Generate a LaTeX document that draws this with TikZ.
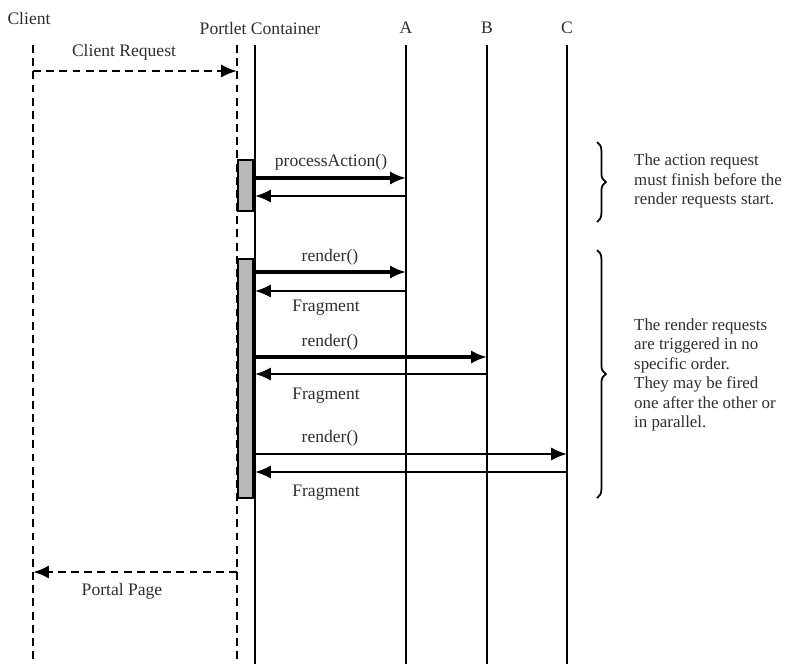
\documentclass[tikz,border=0pt]{standalone}
\usepackage{fontspec}
\setmainfont{Liberation Serif}
\usetikzlibrary{arrows.meta,decorations.pathreplacing}
\definecolor{seqink}{HTML}{2E2E2E}
\definecolor{seqgray}{HTML}{B8B8B8}

\tikzset{
  lifeline/.style={line width=1.1pt},
  dashline/.style={line width=1.5pt,dash pattern=on 4.5pt off 3pt},
  msgtip/.style={-{Latex[length=9pt,width=7.5pt]}},
  callmsg/.style={msgtip,line width=2pt},
  replymsg/.style={msgtip,line width=1.2pt},
  activation/.style={draw,fill=seqgray,line width=.8pt},
  msglabel/.style={text=seqink,font=\fontsize{10}{12}\selectfont},
  notetext/.style={text=seqink,anchor=west,align=left,
    font=\fontsize{9.6}{11.1}\selectfont},
  notebrace/.style={decorate,decoration={brace,amplitude=5pt},line width=1pt}
}

\begin{document}
\begin{tikzpicture}[x=0.02cm,y=-0.02cm,line cap=butt]
  \useasboundingbox (0,0) rectangle (790,664);

  % lifelines
  \coordinate (cl) at (33,0);
  \coordinate (pcd) at (237,0);
  \coordinate (pc) at (255,0);
  \coordinate (la) at (406,0);
  \coordinate (lb) at (487,0);
  \coordinate (lc) at (567,0);
  \coordinate (top) at (0,45);
  \coordinate (bot) at (0,664);

  \node[msglabel] (clientlbl) at (29,18) {Client};
  \node[msglabel] (pclbl) at (260,28) {Portlet Container};
  \node[msglabel] (albl) at (406,28) {A};
  \node[msglabel] (blbl) at (487,28) {B};
  \node[msglabel] (clbl) at (567,28) {C};

  \draw[dashline] (cl |- top) -- (cl |- bot);
  \draw[dashline] (pcd |- top) -- (pcd |- bot);
  \draw[lifeline,line width=1.4pt] (pc |- top) -- (pc |- bot);
  \draw[lifeline] (la |- top) -- (la |- bot);
  \draw[lifeline] (lb |- top) -- (lb |- bot);
  \draw[lifeline] (lc |- top) -- (lc |- bot);

  % activations
  \coordinate (act1t) at (238,160);
  \coordinate (act1b) at (253,211);
  \coordinate (act2t) at (238,259);
  \coordinate (act2b) at (253,498);
  \draw[activation] (act1t) rectangle (act1b);
  \draw[activation] (act2t) rectangle (act2b);

  % message rows
  \coordinate (req) at (0,71);
  \coordinate (pa) at (0,178);
  \coordinate (pr) at (0,196);
  \coordinate (ra) at (0,272);
  \coordinate (fa) at (0,291);
  \coordinate (rb) at (0,357);
  \coordinate (fb) at (0,374);
  \coordinate (rc) at (0,454);
  \coordinate (fc) at (0,472);
  \coordinate (page) at (0,572);

  \draw[dashline,msgtip] (cl |- req) -- (pcd |- req);
  \node[msglabel] (reqlbl) at (124,52) {Client Request};

  \draw[callmsg] (pc |- pa) -- (la |- pa);
  \draw[replymsg] (la |- pr) -- (pc |- pr);
  \node[msglabel] (palbl) at (331,162) {processAction()};

  \draw[callmsg] (pc |- ra) -- (la |- ra);
  \draw[replymsg] (la |- fa) -- (pc |- fa);
  \node[msglabel] (ralbl) at (330,257) {render()};
  \node[msglabel] (falbl) at (326,308) {Fragment};

  \draw[callmsg] (pc |- rb) -- (lb |- rb);
  \draw[replymsg] (lb |- fb) -- (pc |- fb);
  \node[msglabel] (rblbl) at (330,342) {render()};
  \node[msglabel] (fblbl) at (326,396) {Fragment};

  \draw[replymsg] (pc |- rc) -- (lc |- rc);
  \draw[replymsg] (lc |- fc) -- (pc |- fc);
  \node[msglabel] (rclbl) at (330,438) {render()};
  \node[msglabel] (fclbl) at (326,493) {Fragment};

  \draw[dashline,msgtip] (pcd |- page) -- (cl |- page);
  \node[msglabel] (pagelbl) at (122,591) {Portal Page};

  % notes
  \coordinate (b1t) at (597,142);
  \coordinate (b1b) at (597,222);
  \coordinate (b2t) at (597,250);
  \coordinate (b2b) at (597,498);
  \draw[notebrace] (b1t) -- (b1b);
  \draw[notebrace] (b2t) -- (b2b);
  \node[notetext] (note1) at (628,181)
    {The action request\\must finish before the\\render requests start.};
  \node[notetext] (note2) at (628,375)
    {The render requests\\are triggered in no\\specific order.\\They may be fired\\one after the other or\\in parallel.};
\end{tikzpicture}
\end{document}
